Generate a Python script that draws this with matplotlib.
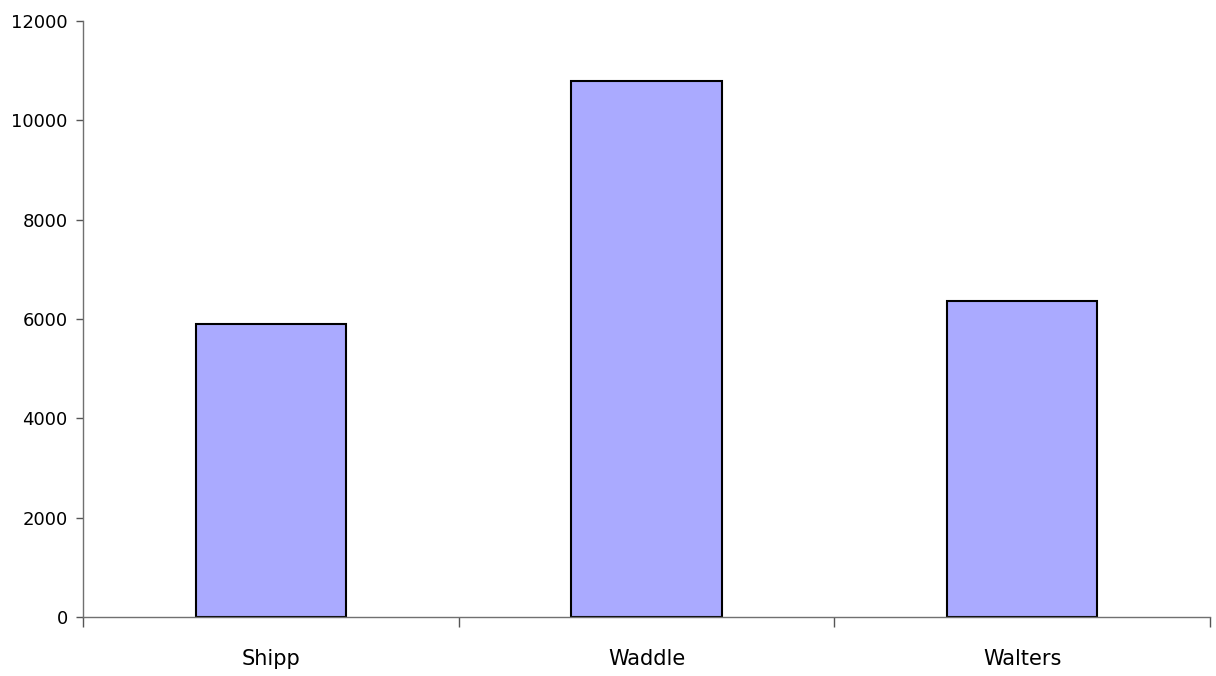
import numpy as np
import matplotlib.pyplot as plt

# Data
names = ["Shipp", "Waddle", "Walters"]
values = [5900, 10800, 6360]
y_ticks = [0, 2000, 4000, 6000, 8000, 10000, 12000]

fig = plt.figure(figsize=(12.16, 6.76), dpi=100)
ax = fig.add_axes([0.0683, 0.0873, 0.9267, 0.8817])

x = np.arange(len(names))
ax.bar(x, values, width=0.40, color="#AAAAFF", edgecolor="black", linewidth=1.5, zorder=3)

ax.set_xlim(-0.5, len(names) - 0.5)
ax.set_ylim(0, 12000)
ax.set_yticks(y_ticks)
ax.set_yticklabels([str(v) for v in y_ticks], fontsize=13)

# category labels centred, tick marks at the boundaries
ax.set_xticks(x)
ax.set_xticklabels(names, fontsize=15)
ax.tick_params(axis="x", which="major", length=0, pad=23)
ax.set_xticks(np.arange(len(names) + 1) - 0.5, minor=True)
ax.tick_params(axis="x", which="minor", length=7, width=1, color="#555555", direction="out")
ax.tick_params(axis="y", length=5, width=1, color="#555555", pad=6)

for side in ["top", "right"]:
    ax.spines[side].set_visible(False)
for side in ["left", "bottom"]:
    ax.spines[side].set_color("#707070")
    ax.spines[side].set_linewidth(1)
    ax.spines[side].set_zorder(4)

fig.savefig("out.png", dpi=100)
